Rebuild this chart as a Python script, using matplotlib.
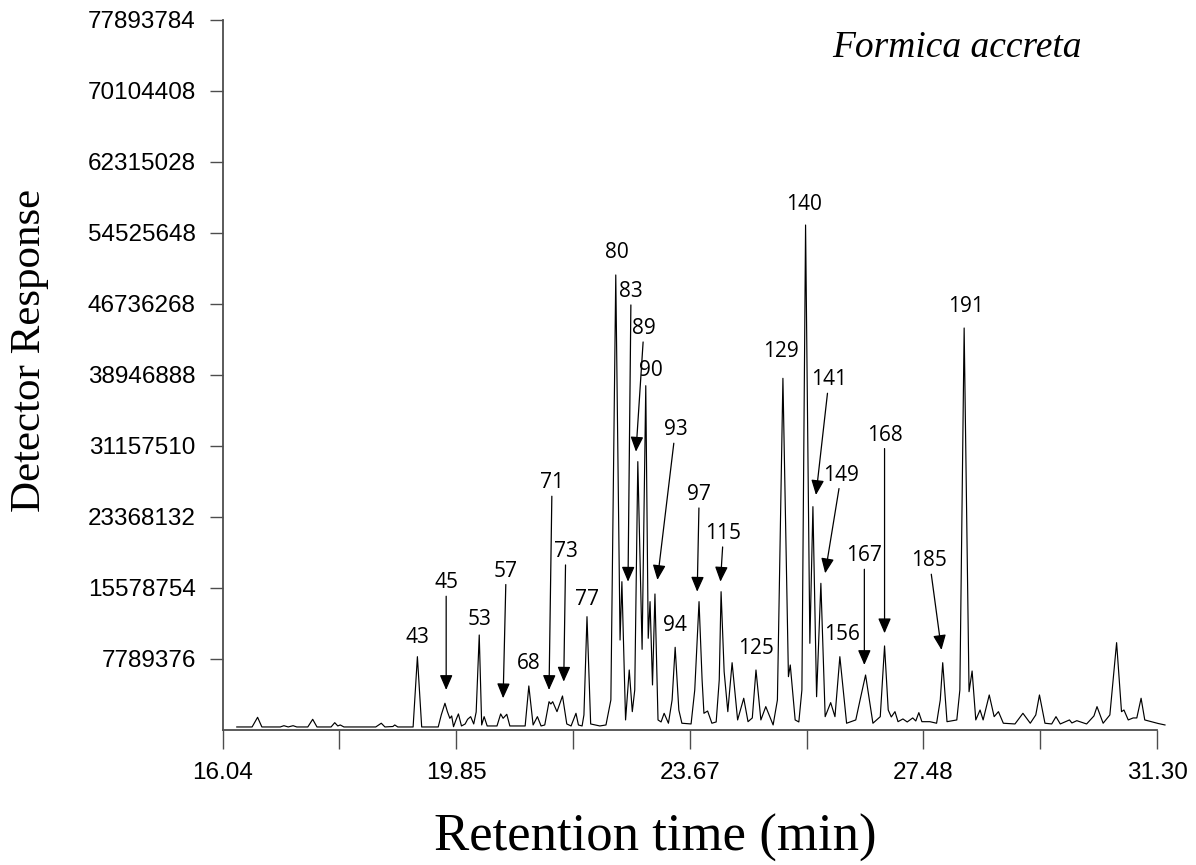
import matplotlib
matplotlib.use("Agg")
import matplotlib.pyplot as plt
import numpy as np

# Chromatogram trace (time in min, response in millions)
time_min = [
    16.27, 16.52, 16.61, 16.68, 16.98, 17.04, 17.11, 17.19, 17.25, 17.43,
    17.51, 17.58, 17.81, 17.87, 17.92, 17.96, 18.02, 18.54, 18.63, 18.69,
    18.82, 18.85, 18.90, 19.15, 19.22, 19.29, 19.56, 19.61, 19.67, 19.71,
    19.75, 19.78, 19.81, 19.85, 19.89, 19.94, 20.00, 20.04, 20.09, 20.14,
    20.18, 20.23, 20.27, 20.31, 20.36, 20.52, 20.58, 20.62, 20.68, 20.73,
    20.98, 21.04, 21.11, 21.18, 21.24, 21.30, 21.37, 21.40, 21.43, 21.50,
    21.59, 21.66, 21.73, 21.81, 21.85, 21.91, 21.94, 21.99, 22.05, 22.20,
    22.30, 22.38, 22.46, 22.53, 22.56, 22.62, 22.68, 22.73, 22.77, 22.82,
    22.89, 22.95, 22.99, 23.02, 23.06, 23.10, 23.15, 23.20, 23.25, 23.32,
    23.38, 23.43, 23.49, 23.54, 23.69, 23.75, 23.82, 23.87, 23.90, 23.96,
    24.03, 24.10, 24.15, 24.18, 24.23, 24.29, 24.36, 24.45, 24.55, 24.62,
    24.69, 24.75, 24.83, 24.91, 25.03, 25.10, 25.19, 25.28, 25.31, 25.39,
    25.45, 25.50, 25.56, 25.63, 25.68, 25.74, 25.81, 25.88, 25.97, 26.04,
    26.12, 26.23, 26.38, 26.45, 26.54, 26.66, 26.78, 26.85, 26.91, 26.96,
    27.02, 27.07, 27.15, 27.22, 27.31, 27.36, 27.41, 27.46, 27.59, 27.70,
    27.76, 27.80, 27.87, 28.03, 28.08, 28.15, 28.23, 28.28, 28.34, 28.41,
    28.46, 28.56, 28.64, 28.71, 28.79, 28.98, 29.11, 29.23, 29.32, 29.38,
    29.47, 29.58, 29.65, 29.72, 29.87, 29.91, 29.99, 30.15, 30.27, 30.32,
    30.42, 30.53, 30.64, 30.72, 30.76, 30.83, 30.91, 30.97, 31.04, 31.10,
    31.21, 31.32, 31.43,
]
response_m = [
    0.33, 0.33, 1.39, 0.33, 0.33, 0.47, 0.33, 0.47, 0.33, 0.33,
    1.17, 0.33, 0.33, 0.80, 0.44, 0.55, 0.33, 0.33, 0.74, 0.33,
    0.38, 0.55, 0.33, 0.33, 8.04, 0.33, 0.33, 1.65, 2.93, 2.01,
    1.28, 1.54, 0.36, 1.10, 1.76, 0.44, 0.66, 1.17, 1.46, 0.66,
    1.97, 10.42, 0.55, 1.46, 0.44, 0.44, 1.76, 1.28, 1.72, 0.44,
    0.44, 4.83, 0.55, 1.46, 0.44, 0.55, 3.10, 2.85, 3.10, 2.01,
    3.73, 0.66, 0.44, 1.83, 0.55, 0.44, 1.65, 12.43, 0.66, 0.44,
    0.55, 3.29, 49.92, 9.87, 16.27, 1.10, 6.58, 2.01, 4.39, 29.44,
    8.85, 37.77, 10.06, 14.08, 4.94, 14.92, 1.10, 0.88, 1.83, 0.74,
    3.29, 9.07, 2.19, 0.74, 0.66, 4.39, 14.08, 5.49, 1.83, 2.08,
    0.74, 0.88, 5.49, 15.17, 6.40, 2.01, 7.38, 1.10, 3.48, 0.91,
    1.32, 6.58, 1.10, 2.56, 0.55, 3.29, 38.58, 5.85, 7.13, 1.10,
    0.88, 4.39, 55.40, 9.51, 24.50, 3.65, 16.09, 1.46, 3.00, 1.46,
    8.04, 0.74, 1.10, 3.29, 6.03, 0.74, 1.46, 9.22, 2.19, 1.43,
    2.01, 0.91, 1.21, 0.88, 1.32, 0.99, 1.90, 0.91, 0.91, 0.74,
    3.29, 7.38, 0.91, 1.10, 4.39, 44.10, 4.20, 6.47, 1.10, 2.19,
    1.10, 3.84, 1.46, 2.01, 0.74, 0.66, 1.83, 0.74, 1.65, 3.84,
    0.74, 0.66, 1.46, 0.66, 1.10, 0.77, 1.02, 0.66, 1.54, 2.56,
    0.74, 1.65, 9.58, 2.01, 2.19, 1.10, 1.32, 1.32, 3.48, 1.10,
    0.91, 0.71, 0.55,
]

# Peak numbers and the point each one marks
peak_labels = ["43", "45", "53", "57", "68", "71", "73", "77", "80", "83",
               "89", "90", "93", "94", "97", "115", "125", "129", "140", "141",
               "149", "156", "167", "168", "185", "191"]
peak_t = [19.22, 19.69, 20.23, 20.62, 21.04, 21.37, 21.61, 21.99, 22.46, 22.66,
          22.79, 22.95, 23.14, 23.43, 23.79, 24.17, 24.75, 25.19, 25.56, 25.73,
          25.88, 26.12, 26.52, 26.85, 27.78, 28.15]
peak_y = [8.04, 4.39, 10.42, 3.48, 4.83, 4.39, 5.30, 12.43, 49.92, 16.27,
          30.53, 37.77, 16.46, 9.07, 15.17, 16.27, 6.58, 38.58, 55.40, 25.78,
          17.19, 8.04, 7.13, 10.61, 8.78, 44.10]
has_arrow = [False, True, False, True, False, True, True, False, False, True,
             True, False, True, False, True, True, False, False, False, True,
             True, False, True, True, True, False]

# label offsets from the marked point, in pixels
label_offsets = [(0, 19), (0, 107), (0, 15), (3, 127), (0, 22), (3, 207), (2, 130),
                 (0, 17), (1, 22), (3, 290), (8, 123), (5, 15), (18, 150), (0, 22),
                 (2, 97), (3, 48), (0, 21), (-2, 27), (-2, 21), (13, 115), (16, 98),
                 (2, 22), (0, 109), (0, 198), (-12, 89), (2, 22)]

x_ticks = [16.04, 17.9475, 19.855, 21.7625, 23.67, 25.5775, 27.485, 29.3925, 31.30]
x_tick_labels = ["16.04", "", "19.85", "", "23.67", "", "27.48", "", "31.30"]
y_ticks = [7789376, 15578754, 23368132, 31157510, 38946888, 46736268,
           54525648, 62315028, 70104408, 77893784]

plt.rcParams["font.family"] = "Liberation Sans"
axis_grey = "#4d4d4d"

fig = plt.figure(figsize=(11.96, 8.65), dpi=100)
ax = fig.add_axes([0.1862, 0.1561, 0.7812, 0.8208])

ax.plot(time_min, np.array(response_m) * 1e6, color="black", lw=0.85,
        solid_joinstyle="round", clip_on=False)
ax.set_xlim(16.04, 31.30)
ax.set_ylim(0, 77893784)

ax.spines[["top", "right"]].set_visible(False)
for side in ["left", "bottom"]:
    ax.spines[side].set_color(axis_grey)
    ax.spines[side].set_linewidth(1.3)

ax.set_xticks(x_ticks)
ax.set_xticklabels(x_tick_labels)
ax.set_yticks(y_ticks)
ax.set_yticklabels([str(v) for v in y_ticks])
ax.tick_params(axis="x", length=13.7, width=1, color=axis_grey, pad=9, labelsize=17.5)
ax.tick_params(axis="y", length=9.4, width=1, color=axis_grey, pad=10, labelsize=17.5)

for lab, t, y, arrow, (dx, dy) in zip(peak_labels, peak_t, peak_y, has_arrow, label_offsets):
    props = None
    if arrow:
        props = dict(arrowstyle="-|>,head_length=0.65,head_width=0.28", color="black",
                     lw=0.9, mutation_scale=14, shrinkA=0, shrinkB=0)
    ax.annotate(lab, xy=(t, y * 1e6), xytext=(dx, dy), textcoords="offset pixels",
                ha="center", va="center", fontsize=15, family="Open Sans",
                arrowprops=props, annotation_clip=False)

fig.text(30 / 1196, 1 - 350 / 865, "Detector Response", rotation=90,
         ha="center", va="center", family="Liberation Serif", fontsize=31)
fig.text(655 / 1196, 1 - 838 / 865, "Retention time (min)",
         ha="center", va="center", family="Liberation Serif", fontsize=38)
fig.text(957 / 1196, 1 - 48 / 865, "Formica accreta", style="italic",
         ha="center", va="center", family="Liberation Serif", fontsize=27)

fig.savefig("out.png", dpi=100)
